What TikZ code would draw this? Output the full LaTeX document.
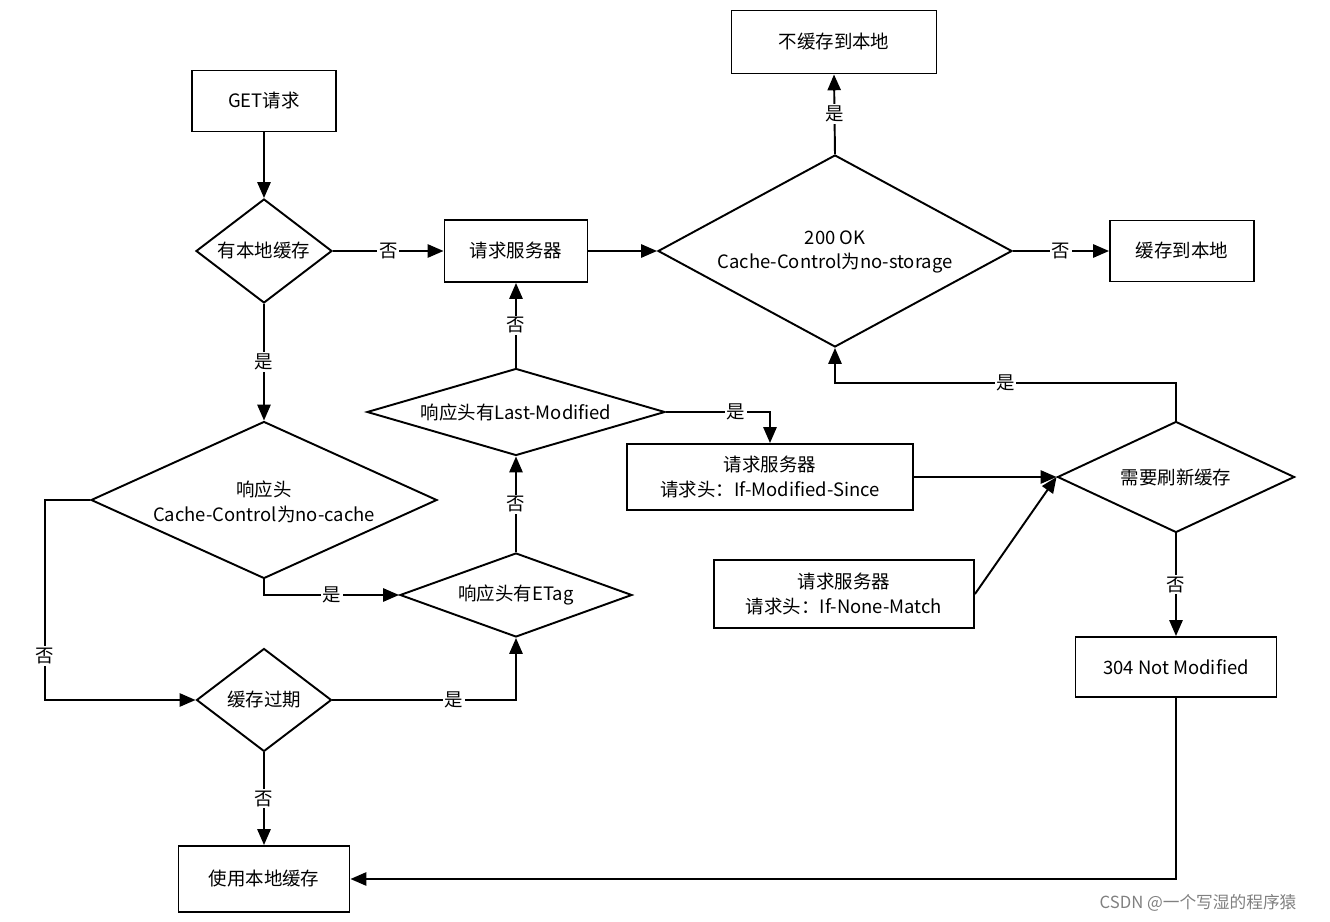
\documentclass[tikz,border=0pt]{standalone}
\usepackage{fontspec}
\setmainfont{Noto Sans CJK SC}
\usetikzlibrary{shapes.geometric,arrows.meta}
\begin{document}
\begin{tikzpicture}[x=0.02cm,y=-0.02cm,
  every node/.style={font=\fontsize{10.5}{14}\selectfont},
  box/.style 2 args={draw,line width=1.1pt,minimum width={#1*0.02cm},minimum height={#2*0.02cm},inner sep=0pt,align=center},
  dia/.style 2 args={diamond,draw,line width=1.1pt,minimum width={#1*0.02cm},minimum height={#2*0.02cm},inner sep=0pt},
  txt/.style={align=center,inner sep=0pt},
  lbl/.style={fill=white,inner sep=1pt},
  arr/.style={line width=1.1pt,-{Triangle[length=9pt,width=7.5pt]}}]
\useasboundingbox (0,0) rectangle (1330,922);
\node[box={144}{61}] (get) at (264,101) {GET请求};
\node[dia={136}{104}] (local) at (264,251) {};
\node[txt] at (local) {有本地缓存};
\node[box={143}{62}] (req) at (516,251) {请求服务器};
\node[dia={354}{192}] (ok) at (835,251) {};
\node[txt] at (835,252) {200 OK\\Cache-Control为no-storage};
\node[box={205}{63}] (nostore) at (834,42) {不缓存到本地};
\node[box={144}{61}] (store) at (1182,251) {缓存到本地};
\node[dia={298}{87}] (lm) at (516,412) {};
\node[txt] at (lm) {响应头有Last-Modified};
\node[box={286}{66}] (ims) at (770,477) {请求服务器\\请求头：If-Modified-Since};
\node[dia={237}{111}] (refresh) at (1176,477) {};
\node[txt] at (refresh) {需要刷新缓存};
\node[dia={346}{157}] (nocache) at (264,500) {};
\node[txt] at (264,502) {响应头\\Cache-Control为no-cache};
\node[dia={232}{84}] (etag) at (516,595) {};
\node[txt] at (etag) {响应头有ETag};
\node[box={260}{68}] (inm) at (844,594) {请求服务器\\请求头：If-None-Match};
\node[box={201}{60}] (nm) at (1176,667) {304 Not Modified};
\node[dia={135}{103}] (exp) at (264,700) {};
\node[txt] at (exp) {缓存过期};
\node[box={171}{66}] (use) at (264,879) {使用本地缓存};
\coordinate (c1) at (45,500);
\coordinate (c2) at (45,700);
\coordinate (c3) at (1176,383);
\coordinate (c4) at (1176,879);
\coordinate (c5) at (770,412);

\draw[arr] (get) -- (local.north);
\draw[arr] (local.east) -- node[lbl]{否} (req.west);
\draw[arr] (local.south) -- node[lbl]{是} (nocache.north);
\draw[arr] (req.east) -- (ok.west);
\draw[arr] (ok.north) -- node[lbl]{是} (nostore.south);
\draw[arr] (ok.east) -- node[lbl]{否} (store.west);
\draw[arr] (lm.north) -- node[lbl]{否} (req.south);
\draw[arr] (lm.east) -- node[lbl,pos=0.67]{是} (c5) -- (ims.north);
\draw[arr] (etag.north) -- node[lbl]{否} (lm.south);
\draw[arr] (ims.east) -- (refresh.west);
\draw[arr] (inm.east) -- (refresh.west);
\draw[arr] (refresh.north) -- (c3) -| node[lbl,pos=0.25]{是} (ok.south);
\draw[arr] (refresh.south) -- node[lbl]{否} (nm.north);
\draw[arr] (nm.south) -- (c4) -- (use.east);
\draw[arr] (nocache.south) |- node[lbl,pos=0.75]{是} (etag.west);
\draw[arr] (nocache.west) -- (c1) -- node[lbl,pos=0.78]{否} (c2) -- (exp.west);
\draw[arr] (exp.east) -| node[lbl,pos=0.33]{是} (etag.south);
\draw[arr] (exp.south) -- node[lbl]{否} (use.north);
\node[text=gray,font=\fontsize{9.5}{11}\selectfont] (wm) at (1198,903) {CSDN @一个写湿的程序猿};
\end{tikzpicture}
\end{document}
